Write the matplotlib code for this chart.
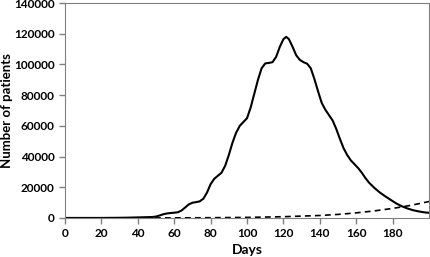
import numpy as np
import matplotlib.pyplot as plt

# Solid curve: number of patients
days = [0, 10, 20, 30, 35, 40, 45, 48, 50, 52, 54, 56, 58, 60, 62, 64, 66,
        68, 70, 72, 74, 76, 78, 80, 82, 84, 86, 88, 90, 92, 94, 96, 98, 100,
        102, 104, 106, 108, 110, 112, 114, 116, 118, 120, 121.5, 123, 125,
        127, 129, 131, 133, 135, 137, 139, 141, 143, 145, 147, 149, 151, 153,
        155, 157, 159, 161, 163, 165, 167, 170, 173, 176, 179, 182, 185, 188,
        191, 194, 197, 200]
patients = [0, 0, 0, 100, 200, 350, 500, 600, 900, 1600, 2400, 2900, 3200,
            3400, 3700, 4800, 6800, 8800, 9900, 10300, 10800, 12500, 16500,
            22000, 25500, 27500, 29500, 34000, 41000, 49000, 55500, 60000,
            62500, 65000, 72000, 81000, 90000, 97500, 100700, 101000, 101500,
            105000, 111500, 116500, 118000, 116500, 111500, 106000, 103000,
            101500, 100500, 97500, 90500, 82500, 75000, 70500, 67000, 63500,
            58000, 51500, 45500, 41000, 37500, 35000, 32500, 29500, 26000,
            23000, 19500, 16500, 14000, 11700, 9400, 7600, 6200, 5100, 4300,
            3700, 3300]

# Dashed curve
days2 = [0, 40, 60, 80, 100, 120, 140, 150, 160, 170, 180, 190, 200]
second = [0, 0, 50, 150, 350, 800, 1600, 2300, 3300, 4600, 6200, 8200, 10700]

fig = plt.figure(figsize=(4.3, 2.57), dpi=100)
ax = fig.add_axes([0.151, 0.152, 0.847, 0.836])

ax.plot(days, patients, color="black", linewidth=1.5)
ax.plot(days2, second, color="black", linewidth=1.2, linestyle=(0, (3.5, 2.5)))

ax.set_xlim(0, 200)
ax.set_ylim(0, 140000)
ax.set_xticks(np.arange(0, 181, 20))
ax.set_yticks(np.arange(0, 140001, 20000))

for s in ax.spines.values():
    s.set_color("#808080")
ax.tick_params(direction="out", length=4, color="#808080", width=1,
               labelsize=8.5)
for lab in ax.get_xticklabels() + ax.get_yticklabels():
    lab.set_fontfamily("Lato")
    lab.set_fontweight("bold")

ax.set_xlabel("Days", fontsize=10, fontweight="bold", family="Lato", labelpad=3)
ax.set_ylabel("Number of patients", fontsize=9.5, fontweight="bold",
              family="Lato")
ax.yaxis.set_label_coords(-0.142, 0.5)

plt.savefig("out.png", dpi=100)
